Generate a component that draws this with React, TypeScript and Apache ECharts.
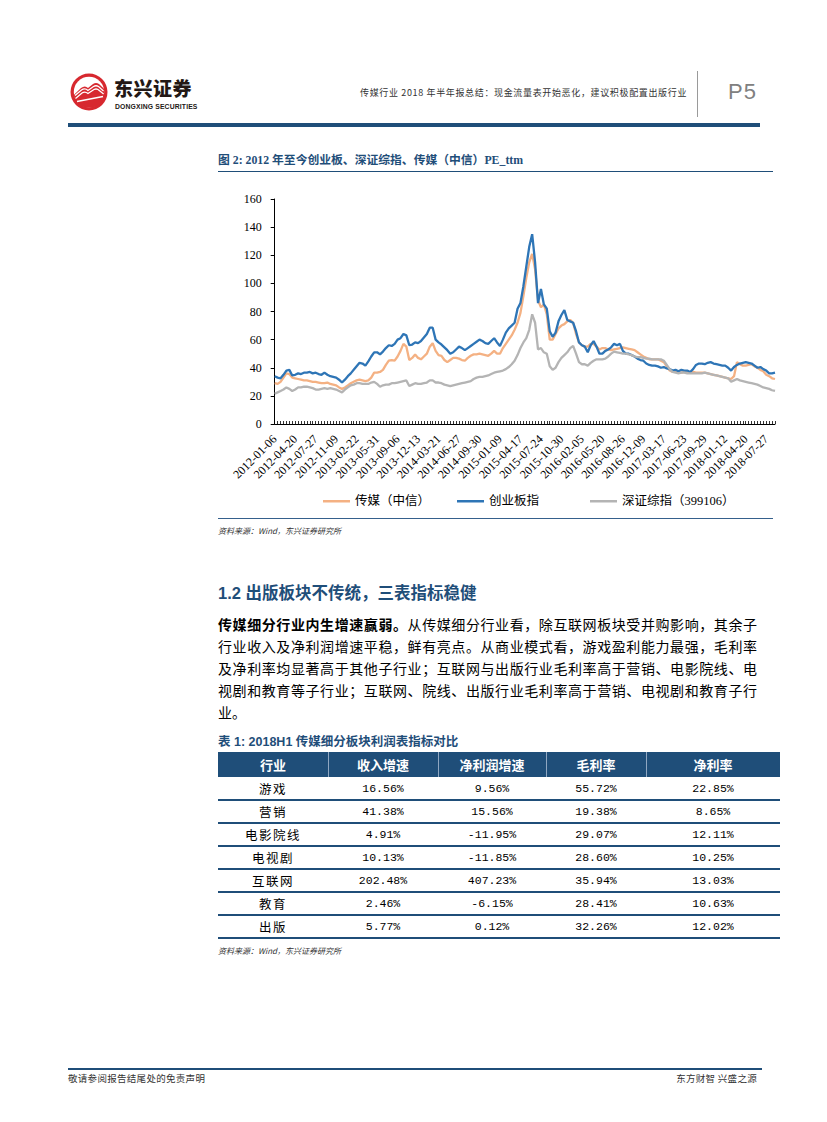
import React, { useEffect, useRef } from "react";
import * as echarts from "echarts";

// ---------- chart data ----------
const tickLabels = [
  "2012-01-06", "2012-04-20", "2012-07-27", "2012-11-09", "2013-02-22",
  "2013-05-31", "2013-09-06", "2013-12-13", "2014-03-21", "2014-06-27",
  "2014-09-30", "2015-01-09", "2015-04-17", "2015-07-24", "2015-10-30",
  "2016-02-05", "2016-05-20", "2016-08-26", "2016-12-09", "2017-03-17",
  "2017-06-23", "2017-09-29", "2018-01-12", "2018-04-20", "2018-07-27",
];
const seriesNames = ["传媒（中信）", "创业板指", "深证综指（399106）"];

// bi-weekly PE_ttm readings
const mediaPE = [
  29, 28.5, 30, 33, 36, 35.5, 33, 32.5, 32, 31.5,
  31, 31, 30.5, 30, 30, 29.5, 29, 29, 29.5, 28.5,
  28, 27.5, 26, 25, 26, 27.5, 29, 30, 31, 31.5,
  31, 30.5, 31, 33, 36.5, 36.5, 37, 38.5, 42, 45,
  45.5, 45, 48, 52, 57, 55, 45.5, 47, 49.5, 47,
  46, 48, 50, 55, 57.5, 52, 49, 48.5, 45.5, 44,
  45.5, 47, 47, 46.5, 45.5, 45, 47, 48.5, 49.5, 49.5,
  50, 49.5, 49, 48.5, 50, 52, 50, 50, 54, 57,
  60, 63, 67, 72, 79, 91, 104, 115, 121, 110,
  88, 83, 85, 78, 60, 60, 64, 68, 70, 71,
  73, 74, 72, 64, 58, 56, 55, 55, 57, 57,
  55, 53, 54, 54, 53, 52.5, 53, 53.5, 54, 54.5,
  54, 53.5, 53, 52.5, 51, 49.5, 48, 47, 46, 46,
  46, 46, 45, 44, 41, 38, 37, 37, 36.5, 36.5,
  37, 36.5, 36.5, 37, 36.5, 36.5, 36.5, 36.5, 36, 35.5,
  35, 34.5, 34, 33.5, 33, 32.5, 32, 34, 44, 42.5,
  41.5, 41.5, 42, 42.5, 41, 40, 38.5, 37.5, 35, 34,
  32.5, 32,
];
const chinextPE = [
  34, 33, 32.5, 35, 38, 38.5, 34.5, 35, 36, 35.5,
  36.5, 36.5, 37, 36, 36.5, 35.5, 35, 36.5, 35, 34,
  33.5, 33, 31.5, 29.5, 31.5, 34, 36, 38.5, 41, 43.5,
  43, 41.5, 44.5, 48, 51, 51, 49.5, 51.5, 54, 56,
  55.5, 57, 60, 61, 64, 63, 56, 56.5, 58, 57.5,
  59, 61.5, 64, 68.5, 68.5, 60, 58, 56.5, 54.5, 52.5,
  50, 51, 53, 55, 54, 52.5, 54, 55.5, 57, 58.5,
  60, 59, 57.5, 57, 59, 61, 58, 55.5, 60, 65,
  68, 70, 72, 82, 86, 98, 112, 126, 135, 115,
  86, 96, 85, 82, 66, 62, 65, 73, 77.5, 81,
  74, 73, 72, 66, 58, 56, 55, 51, 56, 59,
  55, 50, 50, 52, 53, 54.5, 57, 56, 57, 52,
  50, 50, 49, 48, 46.5, 45.5, 45, 43, 42, 41.5,
  41.5, 41, 40, 40.5, 39.5, 39, 38, 38.5, 37.5, 38.5,
  38, 38, 37, 39, 42, 43, 43, 42.5, 43.5, 44,
  43, 42.5, 42, 41.5, 41.5, 40, 38, 40.5, 42, 43,
  43.5, 44, 43.5, 43, 41.5, 40, 40.5, 39, 38, 36,
  36, 36.5,
];
const szCompPE = [
  21.5, 22.5, 23.5, 24.5, 26, 25, 23.5, 24.5, 26, 26,
  26.5, 26.5, 26, 25.5, 24.5, 24.5, 25, 25.5, 25, 25.5,
  25, 24.5, 23.5, 22.5, 24.5, 26, 27.5, 28, 29, 29,
  28.5, 28.5, 28.5, 29.5, 30, 28.5, 26.5, 27.5, 28, 28,
  29, 29, 29.5, 30, 30.5, 31, 27, 28, 29, 28.5,
  28.5, 29, 29.5, 31, 31, 29.5, 29.5, 29, 28, 27.5,
  27, 27.5, 28, 28.5, 29, 29.5, 30, 30.5, 32, 33,
  33.5, 33.5, 34, 34.5, 35.5, 36.5, 37, 37.5, 38, 39,
  40.5, 42.5, 45, 49, 54, 58, 61, 67, 78, 72,
  53, 54, 51, 50, 41, 38.5, 40, 44, 47, 49,
  51, 54, 55.5, 50, 44, 42.5, 42.5, 41.5, 43.5, 45,
  46, 46, 46, 46.5, 48, 50, 51.5, 51, 50.5, 50,
  50, 49.5, 49, 48, 47.5, 47.5, 47, 46.5, 46.5, 46,
  46, 46, 46, 45, 42, 39, 37, 36.5, 36, 36.5,
  36.5, 36, 36, 36, 36, 36, 36, 36.5, 36, 35.5,
  35, 34.5, 34, 33.5, 33, 32.5, 30, 31, 32, 31,
  30.5, 30, 29.5, 29, 28.5, 28, 27, 26, 25.5, 25,
  24, 23.5,
];
const yMin = 0;
const yMax = 160;
const yStep = 20;

// ---------- table data ----------
const tableHeader = ["行业", "收入增速", "净利润增速", "毛利率", "净利率"];
const industries = ["游戏", "营销", "电影院线", "电视剧", "互联网", "教育", "出版"];
const revenueGrowth = ["16.56%", "41.38%", "4.91%", "10.13%", "202.48%", "2.46%", "5.77%"];
const profitGrowth = ["9.56%", "15.56%", "-11.95%", "-11.85%", "407.23%", "-6.15%", "0.12%"];
const grossMargin = ["55.72%", "19.38%", "29.07%", "28.60%", "35.94%", "28.41%", "32.26%"];
const netMargin = ["22.85%", "8.65%", "12.11%", "10.25%", "13.03%", "10.63%", "12.02%"];

const paragraphLines = [
  "行业收入及净利润增速平稳，鲜有亮点。从商业模式看，游戏盈利能力最强，毛利率",
  "及净利率均显著高于其他子行业；互联网与出版行业毛利率高于营销、电影院线、电",
  "视剧和教育等子行业；互联网、院线、出版行业毛利率高于营销、电视剧和教育子行",
];

// ---------- helpers ----------
const STEPS_PER_LABEL = 7;
const TAIL_POINTS = 3;
function buildCategories(): string[] {
  const out: string[] = [];
  const fmt = (d: Date) => d.toISOString().slice(0, 10);
  tickLabels.forEach((lab, i) => {
    out.push(lab);
    const n = i === tickLabels.length - 1 ? TAIL_POINTS : STEPS_PER_LABEL - 1;
    const base = new Date(lab + "T00:00:00Z").getTime();
    for (let k = 1; k <= n; k++) out.push(fmt(new Date(base + k * 14 * 86400000)));
  });
  return out;
}

const NAVY = "#1f4e79";
const CJK = "'Noto Sans CJK SC', sans-serif";
const SERIF_CJK = "'Liberation Serif', 'Noto Sans CJK SC', serif";
const SANS_CJK = "'Liberation Sans', 'Noto Sans CJK SC', sans-serif";

type TProps = {
  left: number;
  cy: number;
  size: number;
  children: React.ReactNode;
  style?: React.CSSProperties;
  width?: number;
  lh?: number;
};
function T({ left, cy, size, children, style, width, lh }: TProps) {
  const h = lh ?? Math.round(size * 1.4);
  return (
    <div
      style={{
        position: "absolute",
        left,
        top: cy - h / 2,
        height: h,
        lineHeight: `${h}px`,
        fontSize: size,
        whiteSpace: "nowrap",
        width,
        ...style,
      }}
    >
      {children}
    </div>
  );
}

function Rect({ l, t, w, h, c }: { l: number; t: number; w: number; h: number; c: string }) {
  return <div style={{ position: "absolute", left: l, top: t, width: w, height: h, background: c }} />;
}

function Chart() {
  const ref = useRef<HTMLDivElement>(null);
  useEffect(() => {
    if (!ref.current) return;
    const chart = echarts.init(ref.current, undefined, { renderer: "svg" });
    const categories = buildCategories();
    const colors = ["#f4b183", "#2e75b6", "#b4b4b4"];
    const values = [mediaPE, chinextPE, szCompPE];
    const legendLeft = [100, 234, 367];
    chart.setOption({
      animation: false,
      grid: { left: 56.7, right: 3, top: 19, height: 225 },
      xAxis: {
        type: "category",
        data: categories,
        boundaryGap: false,
        axisLine: { lineStyle: { color: "#000", width: 1 } },
        axisTick: { inside: true, length: 3, interval: 0, lineStyle: { color: "#000", width: 0.8 } },
        axisLabel: {
          interval: STEPS_PER_LABEL - 1,
          rotate: 45,
          margin: 13,
          fontFamily: "'Liberation Serif', serif",
          fontSize: 12,
          color: "#000",
        },
      },
      yAxis: {
        type: "value",
        min: yMin,
        max: yMax,
        interval: yStep,
        axisLine: { show: true, lineStyle: { color: "#000", width: 1 } },
        axisTick: { show: true, length: 4, lineStyle: { color: "#000" } },
        splitLine: { show: false },
        axisLabel: { margin: 13, fontFamily: "'Liberation Serif', serif", fontSize: 12, color: "#000" },
      },
      legend: seriesNames.map((n, i) => ({
        data: [n],
        left: legendLeft[i],
        top: 310,
        icon: "rect",
        itemWidth: 27,
        itemHeight: 2.5,
        textStyle: { fontFamily: SERIF_CJK, fontSize: 12.5, color: "#000" },
      })),
      series: seriesNames.map((n, i) => ({
        name: n,
        type: "line",
        data: values[i],
        showSymbol: false,
        symbol: "none",
        lineStyle: { width: 2.3, color: colors[i] },
        itemStyle: { color: colors[i] },
      })),
    });
    return () => chart.dispose();
  }, []);
  return <div ref={ref} style={{ position: "absolute", left: 218, top: 180, width: 560, height: 330 }} />;
}

function Logo() {
  return (
    <svg width="40" height="40" viewBox="0 0 40 40" style={{ position: "absolute", left: 69, top: 72 }}>
      <circle cx="20" cy="20" r="18.5" fill="#d7282f" />
      <circle cx="20" cy="20" r="15.2" fill="#fff" />
      <path d="M4.8 23 L12 16 Q16 13 19 16 L24 12 Q27 10 30 12 L35.2 17 L35.2 24 Q34 31 28 34 Q20 37 12 34 Q6 31 4.8 23 Z" fill="#d7282f" />
      <path d="M6 23.5 L12.5 18 Q16 15.5 19 18.5 L24.5 14.5 Q27 13 29.5 14.5 L34.5 19" stroke="#fff" strokeWidth="1.3" fill="none" />
      <path d="M6.5 26.5 L13 21 Q16 19 19 21.5 L25 17.5 Q27 16.5 29 17.5 L34.6 22" stroke="#fff" strokeWidth="1.3" fill="none" />
      <path d="M8 29.5 L34 24.5" stroke="#fff" strokeWidth="1.3" fill="none" />
    </svg>
  );
}

export default function App() {
  const colX = [218, 328, 438, 546, 646, 780];
  const headerTop = 752;
  const headerH = 25;
  const rowH = 23;
  const columns = [industries, revenueGrowth, profitGrowth, grossMargin, netMargin];
  return (
    <div
      style={{
        position: "absolute",
        left: 0,
        top: 0,
        width: 827,
        height: 1122,
        background: "#fff",
        overflow: "hidden",
        fontFamily: CJK,
        color: "#000",
      }}
    >
      {/* header */}
      <Logo />
      <T left={114} cy={87.5} size={19} lh={19} style={{ fontWeight: 900, color: "#231815", letterSpacing: 0.5, fontFamily: CJK }}>
        东兴证券
      </T>
      <T left={115} cy={106} size={6.8} lh={7} style={{ fontWeight: 700, color: "#231815", fontFamily: "'Liberation Sans', sans-serif", letterSpacing: 0.15 }}>
        DONGXING SECURITIES
      </T>
      <T left={360} cy={92.5} size={9} style={{ color: "#333", letterSpacing: 0.65 }}>
        传媒行业 2018 年半年报总结：现金流量表开始恶化，建议积极配置出版行业
      </T>
      <Rect l={696.5} t={71} w={1.5} h={46} c="#9a9a9a" />
      <T left={728} cy={91} size={22} style={{ color: "#808080", letterSpacing: 1, fontFamily: "'Liberation Sans', sans-serif" }}>
        P5
      </T>
      <Rect l={68} t={123} w={692} h={4} c={NAVY} />

      {/* figure */}
      <T left={218} cy={160.5} size={11.8} style={{ fontWeight: 700, color: NAVY, fontFamily: SERIF_CJK }}>
        图 2: 2012 年至今创业板、深证综指、传媒（中信）PE_ttm
      </T>
      <Rect l={218} t={170.5} w={555} h={1.5} c={NAVY} />
      <Chart />
      <Rect l={218} t={517.5} w={555} h={1.5} c="#35608c" />
      <T left={218} cy={530.5} size={8} style={{ fontStyle: "italic", color: "#333" }}>
        资料来源：Wind，东兴证券研究所
      </T>

      {/* section */}
      <T left={218} cy={593} size={16.5} style={{ fontWeight: 700, color: NAVY, fontFamily: SANS_CJK }}>
        1.2 出版板块不传统，三表指标稳健
      </T>
      <T left={218} cy={624} size={14} lh={20} width={539} style={{ textAlign: "justify", textAlignLast: "justify" }}>
        <span style={{ fontWeight: 700 }}>传媒细分行业内生增速赢弱。</span>从传媒细分行业看，除互联网板块受并购影响，其余子
      </T>
      {paragraphLines.map((line, i) => (
        <T key={i} left={218} cy={646 + i * 22} size={14} lh={20} width={539} style={{ textAlign: "justify", textAlignLast: "justify" }}>
          {line}
        </T>
      ))}
      <T left={218} cy={712} size={14} lh={20}>
        业。
      </T>

      {/* table */}
      <T left={218} cy={742} size={12.5} lh={16} style={{ fontWeight: 700, color: NAVY, fontFamily: SANS_CJK }}>
        表 1: 2018H1 传媒细分板块利润表指标对比
      </T>
      <Rect l={218} t={headerTop} w={562} h={headerH} c={NAVY} />
      {colX.slice(1, -1).map((x, i) => (
        <Rect key={"hs" + i} l={x} t={headerTop} w={1} h={headerH} c="#8fa7c2" />
      ))}
      {tableHeader.map((h, i) => (
        <T
          key={"h" + i}
          left={colX[i]}
          cy={headerTop + headerH / 2}
          size={13}
          lh={18}
          width={colX[i + 1] - colX[i]}
          style={{ textAlign: "center", color: "#fff", fontWeight: 700 }}
        >
          {h}
        </T>
      ))}
      {industries.map((_, r) => (
        <React.Fragment key={"r" + r}>
          {columns.map((col, c) => (
            <T
              key={"c" + c}
              left={colX[c]}
              cy={headerTop + headerH + r * rowH + rowH / 2}
              size={c === 0 ? 12.5 : 11.5}
              lh={17}
              width={colX[c + 1] - colX[c]}
              style={{
                textAlign: "center",
                fontFamily: c === 0 ? CJK : "'Liberation Mono', monospace",
                letterSpacing: c === 0 ? 1.5 : 0,
              }}
            >
              {col[r]}
            </T>
          ))}
          <Rect
            l={218}
            t={headerTop + headerH + (r + 1) * rowH - (r === industries.length - 1 ? 1 : 0.75)}
            w={562}
            h={r === industries.length - 1 ? 2 : 1.5}
            c={NAVY}
          />
        </React.Fragment>
      ))}
      <T left={218} cy={950.5} size={8} lh={11} style={{ fontStyle: "italic", color: "#333" }}>
        资料来源：Wind，东兴证券研究所
      </T>

      {/* footer */}
      <Rect l={68} t={1068} w={694} h={2} c={NAVY} />
      <T left={68} cy={1078} size={9.5} lh={13} style={{ color: "#333", letterSpacing: 0.3 }}>
        敬请参阅报告结尾处的免责声明
      </T>
      <T left={557} cy={1078} size={9.5} lh={13} width={200} style={{ color: "#333", letterSpacing: 0.3, textAlign: "right" }}>
        东方财智 兴盛之源
      </T>
    </div>
  );
}
